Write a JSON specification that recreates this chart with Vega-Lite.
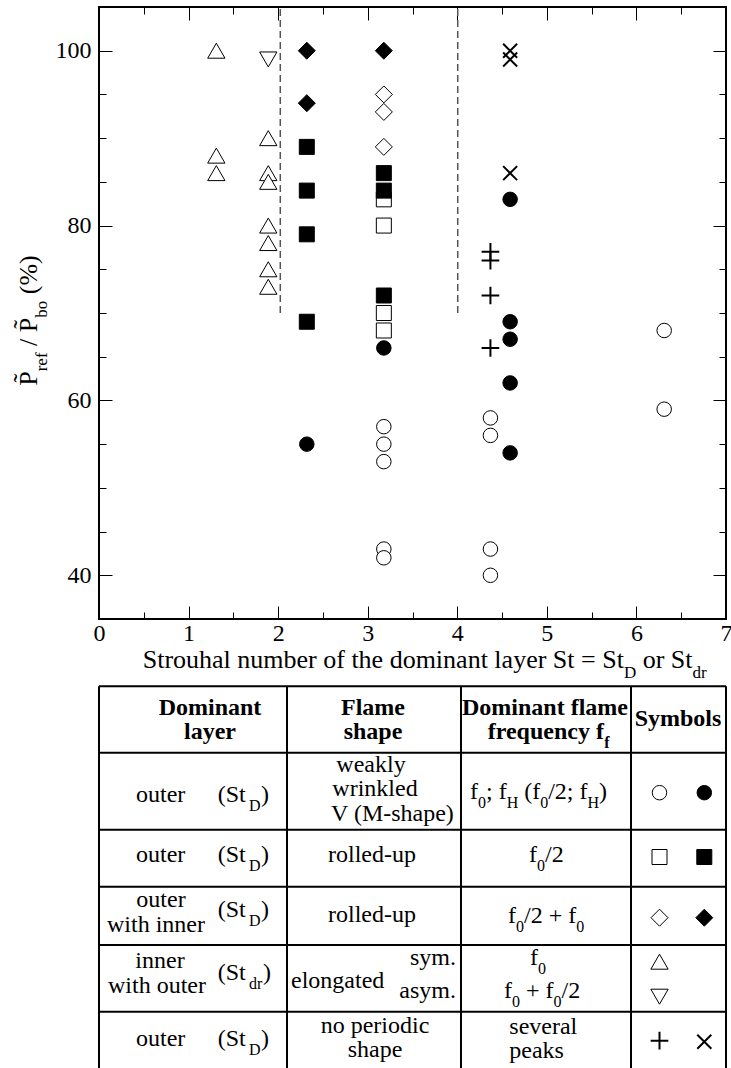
{
  "$schema": "https://vega.github.io/schema/vega-lite/v6.json",
  "background": "white",
  "padding": {"left": 14, "top": 5, "right": 0, "bottom": 0},
  "bounds": "flush",
  "spacing": 30,
  "datasets": {
    "pts": [
      {"x": 1.31, "y": 100, "sym": "tri-up", "f": "open"},
      {"x": 1.31, "y": 88, "sym": "tri-up", "f": "open"},
      {"x": 1.31, "y": 86, "sym": "tri-up", "f": "open"},
      {"x": 1.89, "y": 90, "sym": "tri-up", "f": "open"},
      {"x": 1.89, "y": 86, "sym": "tri-up", "f": "open"},
      {"x": 1.89, "y": 85, "sym": "tri-up", "f": "open"},
      {"x": 1.89, "y": 80, "sym": "tri-up", "f": "open"},
      {"x": 1.89, "y": 78, "sym": "tri-up", "f": "open"},
      {"x": 1.89, "y": 75, "sym": "tri-up", "f": "open"},
      {"x": 1.89, "y": 73, "sym": "tri-up", "f": "open"},
      {"x": 1.89, "y": 99, "sym": "tri-down", "f": "open"},
      {"x": 3.18, "y": 95, "sym": "diamond", "f": "open"},
      {"x": 3.18, "y": 93, "sym": "diamond", "f": "open"},
      {"x": 3.18, "y": 89, "sym": "diamond", "f": "open"},
      {"x": 3.18, "y": 83, "sym": "square", "f": "open"},
      {"x": 3.18, "y": 80, "sym": "square", "f": "open"},
      {"x": 3.18, "y": 70, "sym": "square", "f": "open"},
      {"x": 3.18, "y": 68, "sym": "square", "f": "open"},
      {"x": 3.18, "y": 57, "sym": "circle", "f": "open"},
      {"x": 3.18, "y": 55, "sym": "circle", "f": "open"},
      {"x": 3.18, "y": 53, "sym": "circle", "f": "open"},
      {"x": 3.18, "y": 43, "sym": "circle", "f": "open"},
      {"x": 3.18, "y": 42, "sym": "circle", "f": "open"},
      {"x": 4.37, "y": 58, "sym": "circle", "f": "open"},
      {"x": 4.37, "y": 56, "sym": "circle", "f": "open"},
      {"x": 4.37, "y": 43, "sym": "circle", "f": "open"},
      {"x": 4.37, "y": 40, "sym": "circle", "f": "open"},
      {"x": 6.31, "y": 68, "sym": "circle", "f": "open"},
      {"x": 6.31, "y": 59, "sym": "circle", "f": "open"},
      {"x": 4.37, "y": 77, "sym": "plus", "f": "open"},
      {"x": 4.37, "y": 76, "sym": "plus", "f": "open"},
      {"x": 4.37, "y": 72, "sym": "plus", "f": "open"},
      {"x": 4.37, "y": 66, "sym": "plus", "f": "open"},
      {"x": 2.32, "y": 100, "sym": "diamond", "f": "filled"},
      {"x": 2.32, "y": 94, "sym": "diamond", "f": "filled"},
      {"x": 3.18, "y": 100, "sym": "diamond", "f": "filled"},
      {"x": 2.32, "y": 89, "sym": "square", "f": "filled"},
      {"x": 2.32, "y": 84, "sym": "square", "f": "filled"},
      {"x": 2.32, "y": 79, "sym": "square", "f": "filled"},
      {"x": 2.32, "y": 69, "sym": "square", "f": "filled"},
      {"x": 3.18, "y": 86, "sym": "square", "f": "filled"},
      {"x": 3.18, "y": 84, "sym": "square", "f": "filled"},
      {"x": 3.18, "y": 72, "sym": "square", "f": "filled"},
      {"x": 2.32, "y": 55, "sym": "circle", "f": "filled"},
      {"x": 3.18, "y": 66, "sym": "circle", "f": "filled"},
      {"x": 4.59, "y": 83, "sym": "circle", "f": "filled"},
      {"x": 4.59, "y": 69, "sym": "circle", "f": "filled"},
      {"x": 4.59, "y": 67, "sym": "circle", "f": "filled"},
      {"x": 4.59, "y": 62, "sym": "circle", "f": "filled"},
      {"x": 4.59, "y": 54, "sym": "circle", "f": "filled"},
      {"x": 4.59, "y": 100, "sym": "cross", "f": "filled"},
      {"x": 4.59, "y": 99, "sym": "cross", "f": "filled"},
      {"x": 4.59, "y": 86, "sym": "cross", "f": "filled"}
    ],
    "limits": [
      {"x": 2.024, "y": 70, "y2": 105},
      {"x": 4.005, "y": 70, "y2": 105}
    ],
    "grid": [
      {"x": 0, "x2": 7, "y": 1.5542, "y2": 1.5542},
      {"x": 0, "x2": 7, "y": 4.3208, "y2": 4.3208},
      {"x": 0, "x2": 7, "y": 7.5292, "y2": 7.5292},
      {"x": 0, "x2": 7, "y": 9.9042, "y2": 9.9042},
      {"x": 0, "x2": 7, "y": 12.3333, "y2": 12.3333},
      {"x": 0, "x2": 7, "y": 15.1125, "y2": 15.1125},
      {"x": 0, "x2": 0, "y": 1.5542, "y2": 17.5},
      {"x": 2.0989, "x2": 2.0989, "y": 1.5542, "y2": 17.5},
      {"x": 4.0414, "x2": 4.0414, "y": 1.5542, "y2": 17.5},
      {"x": 5.9394, "x2": 5.9394, "y": 1.5542, "y2": 17.5},
      {"x": 7, "x2": 7, "y": 1.5542, "y2": 17.5}
    ],
    "txt": [
      {"t": "Strouhal number of the dominant layer St = St", "x": 0.4879, "y": 0.8, "k": "T"},
      {"t": "D", "x": 5.8601, "y": 0.8, "k": "Ts"},
      {"t": "or St", "x": 6.07, "y": 0.8, "k": "T"},
      {"t": "dr", "x": 6.626, "y": 0.8, "k": "Ts"},
      {"t": "Dominant", "x": 1.2392, "y": 2.7375, "k": "cb"},
      {"t": "layer", "x": 1.2392, "y": 3.7375, "k": "cb"},
      {"t": "Flame", "x": 3.059, "y": 2.7375, "k": "cb"},
      {"t": "shape", "x": 3.059, "y": 3.7375, "k": "cb"},
      {"t": "Dominant flame", "x": 4.9793, "y": 2.7375, "k": "cb"},
      {"t": "frequency f", "x": 4.3396, "y": 3.7375, "k": "lb"},
      {"t": "f", "x": 5.6414, "y": 3.7375, "k": "sb"},
      {"t": "Symbols", "x": 6.4642, "y": 3.2083, "k": "cb"},
      {"t": "outer", "x": 0.4131, "y": 6.375, "k": "l"},
      {"t": "(St", "x": 1.3252, "y": 6.375, "k": "l"},
      {"t": "D", "x": 1.6746, "y": 6.375, "k": "s"},
      {"t": ")", "x": 1.8086, "y": 6.375, "k": "l"},
      {"t": "weakly", "x": 3.0367, "y": 5.125, "k": "c"},
      {"t": "wrinkled", "x": 3.0813, "y": 6.1458, "k": "c"},
      {"t": "V (M-shape)", "x": 2.5901, "y": 7.1667, "k": "l"},
      {"t": "f", "x": 4.142, "y": 6.25, "k": "l"},
      {"t": "0", "x": 4.2313, "y": 6.25, "k": "s"},
      {"t": "; f", "x": 4.3206, "y": 6.25, "k": "l"},
      {"t": "H", "x": 4.5513, "y": 6.25, "k": "s"},
      {"t": "(f", "x": 4.7471, "y": 6.25, "k": "l"},
      {"t": "0", "x": 4.9257, "y": 6.25, "k": "s"},
      {"t": "/2; f", "x": 5.015, "y": 6.25, "k": "l"},
      {"t": "H", "x": 5.4538, "y": 6.25, "k": "s"},
      {"t": ")", "x": 5.5833, "y": 6.25, "k": "l"},
      {"t": "outer", "x": 0.4131, "y": 8.875, "k": "l"},
      {"t": "(St", "x": 1.3252, "y": 8.875, "k": "l"},
      {"t": "D", "x": 1.6746, "y": 8.875, "k": "s"},
      {"t": ")", "x": 1.8086, "y": 8.875, "k": "l"},
      {"t": "rolled-up", "x": 3.0479, "y": 8.875, "k": "c"},
      {"t": "f", "x": 4.8007, "y": 8.875, "k": "l"},
      {"t": "0", "x": 4.8899, "y": 8.875, "k": "s"},
      {"t": "/2", "x": 4.9793, "y": 8.875, "k": "l"},
      {"t": "outer", "x": 0.6922, "y": 10.7625, "k": "c"},
      {"t": "with inner", "x": 0.6364, "y": 11.7792, "k": "c"},
      {"t": "(St", "x": 1.3252, "y": 11.154, "k": "l"},
      {"t": "D", "x": 1.6746, "y": 11.154, "k": "s"},
      {"t": ")", "x": 1.8086, "y": 11.154, "k": "l"},
      {"t": "rolled-up", "x": 3.0479, "y": 11.3625, "k": "c"},
      {"t": "f", "x": 4.5662, "y": 11.4292, "k": "l"},
      {"t": "0", "x": 4.6555, "y": 11.4292, "k": "s"},
      {"t": "/2 + f", "x": 4.7448, "y": 11.4292, "k": "l"},
      {"t": "0", "x": 5.3276, "y": 11.4292, "k": "s"},
      {"t": "inner", "x": 0.681, "y": 13.304, "k": "c"},
      {"t": "with outer", "x": 0.6475, "y": 14.3458, "k": "c"},
      {"t": "(St", "x": 1.3252, "y": 13.792, "k": "l"},
      {"t": "dr", "x": 1.6746, "y": 13.792, "k": "s"},
      {"t": ")", "x": 1.831, "y": 13.792, "k": "l"},
      {"t": "elongated", "x": 2.1435, "y": 14.125, "k": "l"},
      {"t": "sym.", "x": 3.9857, "y": 13.1667, "k": "r"},
      {"t": "asym.", "x": 3.9857, "y": 14.5417, "k": "r"},
      {"t": "f", "x": 4.8118, "y": 13.1667, "k": "l"},
      {"t": "0", "x": 4.9011, "y": 13.1667, "k": "s"},
      {"t": "f", "x": 4.5215, "y": 14.5417, "k": "l"},
      {"t": "0", "x": 4.6109, "y": 14.5417, "k": "s"},
      {"t": "+ f", "x": 4.7672, "y": 14.5417, "k": "l"},
      {"t": "0", "x": 5.0742, "y": 14.5417, "k": "s"},
      {"t": "/2", "x": 5.1635, "y": 14.5417, "k": "l"},
      {"t": "outer", "x": 0.4131, "y": 16.5417, "k": "l"},
      {"t": "(St", "x": 1.3252, "y": 16.5417, "k": "l"},
      {"t": "D", "x": 1.6746, "y": 16.5417, "k": "s"},
      {"t": ")", "x": 1.8086, "y": 16.5417, "k": "l"},
      {"t": "no periodic", "x": 3.0813, "y": 16.0, "k": "c"},
      {"t": "shape", "x": 3.0813, "y": 17.0, "k": "c"},
      {"t": "several", "x": 4.5807, "y": 16.0417, "k": "l"},
      {"t": "peaks", "x": 4.5807, "y": 17.0417, "k": "l"}
    ],
    "keysyms": [
      {"x": 6.2576, "y": 5.9875, "sym": "circle", "f": "open"},
      {"x": 6.7578, "y": 5.9875, "sym": "circle", "f": "filled"},
      {"x": 6.2576, "y": 8.6667, "sym": "square", "f": "open"},
      {"x": 6.7578, "y": 8.6667, "sym": "square", "f": "filled"},
      {"x": 6.2576, "y": 11.1958, "sym": "diamond", "f": "open"},
      {"x": 6.7578, "y": 11.1958, "sym": "diamond", "f": "filled"},
      {"x": 6.2576, "y": 13.0292, "sym": "tri-up", "f": "open"},
      {"x": 6.2576, "y": 14.4875, "sym": "tri-down", "f": "open"},
      {"x": 6.2576, "y": 16.3208, "sym": "plus", "f": "open"},
      {"x": 6.7578, "y": 16.3625, "sym": "cross", "f": "filled"}
    ]
  },
  "vconcat": [
    {
      "width": 627,
      "height": 612,
      "view": {"stroke": "black", "strokeWidth": 2},
      "resolve": {"axis": {"x": "independent", "y": "independent"}},
      "layer": [
        {
          "data": {"name": "limits"},
          "mark": {"type": "rule", "strokeDash": [7, 4], "color": "#555555", "strokeWidth": 1.5},
          "encoding": {
            "x": {"field": "x", "type": "quantitative", "scale": {"domain": [0, 7], "nice": false, "zero": false},
              "axis": {"orient": "bottom", "values": [0.5, 1.5, 2.5, 3.5, 4.5, 5.5, 6.5], "tickSize": -7, "labels": false, "title": null}},
            "y": {"field": "y", "type": "quantitative", "scale": {"domain": [35, 105], "nice": false, "zero": false},
              "axis": {"orient": "left", "values": [45, 50, 55, 65, 70, 75, 85, 90, 95], "tickSize": -7, "labels": false,
                "title": "ref", "titleX": -53, "titleY": 363.8, "titleAngle": 270, "titleAlign": "left", "titleBaseline": "alphabetic", "titleFontSize": 17}},
            "y2": {"field": "y2"}
          }
        },
        {
          "data": {"name": "pts"},
          "mark": {"type": "point", "filled": true, "stroke": "black", "opacity": 1},
          "encoding": {
            "x": {"field": "x", "type": "quantitative", "scale": {"domain": [0, 7], "nice": false, "zero": false},
              "axis": {"orient": "bottom", "values": [0, 1, 2, 3, 4, 5, 6, 7], "tickSize": -13, "labelPadding": 15, "labelFlush": false, "title": null}},
            "y": {"field": "y", "type": "quantitative", "scale": {"domain": [35, 105], "nice": false, "zero": false},
              "axis": {"orient": "left", "values": [40, 60, 80, 100], "tickSize": -13, "labelPadding": 21,
                "title": "P\u0303", "titleX": -63, "titleY": 378.3, "titleAngle": 270, "titleAlign": "left", "titleBaseline": "alphabetic", "titleFontSize": 26}},
            "shape": {"field": "sym", "type": "nominal", "legend": null,
              "scale": {"domain": ["circle", "square", "diamond", "tri-up", "tri-down", "plus", "cross"],
                "range": ["circle", "square", "diamond", "triangle-up", "triangle-down", "M-1,0L1,0M0,-1L0,1", "M-1,-1L1,1M-1,1L1,-1"]}},
            "fill": {"condition": {"test": "datum.f === 'filled'", "value": "black"}, "value": "white"},
            "size": {"condition": [
              {"test": "datum.sym === 'square'", "value": 225},
              {"test": "datum.sym === 'diamond'", "value": 289},
              {"test": "datum.sym === 'tri-up' || datum.sym === 'tri-down'", "value": 300},
              {"test": "datum.sym === 'plus'", "value": 313},
              {"test": "datum.sym === 'cross'", "value": 196}
            ], "value": 210},
            "strokeWidth": {"condition": {"test": "datum.sym === 'plus' || datum.sym === 'cross'", "value": 2}, "value": 1}
          }
        },
        {
          "data": {"name": "limits"},
          "mark": {"type": "point", "opacity": 0},
          "encoding": {
            "x": {"field": "x", "type": "quantitative", "scale": {"domain": [0, 7], "nice": false, "zero": false},
              "axis": {"orient": "top", "values": [0, 1, 2, 3, 4, 5, 6, 7], "tickSize": -13, "labels": false, "title": null}},
            "y": {"field": "y", "type": "quantitative", "scale": {"domain": [35, 105], "nice": false, "zero": false},
              "axis": {"orient": "right", "values": [40, 60, 80, 100], "tickSize": -13, "labels": false,
                "title": "/ P\u0303", "titleX": -690, "titleY": 338.4, "titleAngle": 270, "titleAlign": "left", "titleBaseline": "alphabetic", "titleFontSize": 26}}
          }
        },
        {
          "data": {"name": "limits"},
          "mark": {"type": "point", "opacity": 0},
          "encoding": {
            "x": {"field": "x", "type": "quantitative", "scale": {"domain": [0, 7], "nice": false, "zero": false},
              "axis": {"orient": "top", "values": [0.5, 1.5, 2.5, 3.5, 4.5, 5.5, 6.5], "tickSize": -7, "labels": false, "title": null}},
            "y": {"field": "y", "type": "quantitative", "scale": {"domain": [35, 105], "nice": false, "zero": false},
              "axis": {"orient": "right", "values": [45, 50, 55, 65, 70, 75, 85, 90, 95], "tickSize": -7, "labels": false,
                "title": "bo", "titleX": -680, "titleY": 310.2, "titleAngle": 270, "titleAlign": "left", "titleBaseline": "alphabetic", "titleFontSize": 17}}
          }
        },
        {
          "data": {"name": "limits"},
          "mark": {"type": "point", "opacity": 0},
          "encoding": {
            "x": {"field": "x", "type": "quantitative", "scale": {"domain": [0, 7], "nice": false, "zero": false}, "axis": null},
            "y": {"field": "y", "type": "quantitative", "scale": {"domain": [35, 105], "nice": false, "zero": false},
              "axis": {"orient": "left", "ticks": false, "labels": false,
                "title": "(%)", "titleX": -63, "titleY": 286.7, "titleAngle": 270, "titleAlign": "left", "titleBaseline": "alphabetic", "titleFontSize": 26}}
          }
        }
      ]
    },
    {
      "width": 627,
      "height": 420,
      "view": {"stroke": null},
      "encoding": {
        "x": {"field": "x", "type": "quantitative", "scale": {"domain": [0, 7], "nice": false, "zero": false}, "axis": null},
        "y": {"field": "y", "type": "quantitative", "scale": {"domain": [0, 17.5], "reverse": true, "nice": false, "zero": false}, "axis": null}
      },
      "layer": [
        {
          "data": {"name": "grid"},
          "mark": {"type": "rule", "color": "black", "strokeWidth": 2},
          "encoding": {"x2": {"field": "x2"}, "y2": {"field": "y2"}}
        },
        {
          "data": {"name": "txt"},
          "transform": [{"filter": "datum.k === 'T'"}],
          "mark": {"type": "text", "align": "left", "baseline": "alphabetic", "font": "Liberation Serif", "fontSize": 26, "color": "black"},
          "encoding": {"text": {"field": "t"}}
        },
        {
          "data": {"name": "txt"},
          "transform": [{"filter": "datum.k === 'Ts'"}],
          "mark": {"type": "text", "align": "left", "baseline": "alphabetic", "font": "Liberation Serif", "fontSize": 17, "dy": 10, "color": "black"},
          "encoding": {"text": {"field": "t"}}
        },
        {
          "data": {"name": "txt"},
          "transform": [{"filter": "datum.k === 'cb'"}],
          "mark": {"type": "text", "align": "center", "baseline": "alphabetic", "font": "Liberation Serif", "fontSize": 24, "fontWeight": "bold", "color": "black"},
          "encoding": {"text": {"field": "t"}}
        },
        {
          "data": {"name": "txt"},
          "transform": [{"filter": "datum.k === 'lb'"}],
          "mark": {"type": "text", "align": "left", "baseline": "alphabetic", "font": "Liberation Serif", "fontSize": 24, "fontWeight": "bold", "color": "black"},
          "encoding": {"text": {"field": "t"}}
        },
        {
          "data": {"name": "txt"},
          "transform": [{"filter": "datum.k === 'sb'"}],
          "mark": {"type": "text", "align": "left", "baseline": "alphabetic", "font": "Liberation Serif", "fontSize": 16, "fontWeight": "bold", "dy": 9, "color": "black"},
          "encoding": {"text": {"field": "t"}}
        },
        {
          "data": {"name": "txt"},
          "transform": [{"filter": "datum.k === 'c'"}],
          "mark": {"type": "text", "align": "center", "baseline": "alphabetic", "font": "Liberation Serif", "fontSize": 24, "color": "black"},
          "encoding": {"text": {"field": "t"}}
        },
        {
          "data": {"name": "txt"},
          "transform": [{"filter": "datum.k === 'l'"}],
          "mark": {"type": "text", "align": "left", "baseline": "alphabetic", "font": "Liberation Serif", "fontSize": 24, "color": "black"},
          "encoding": {"text": {"field": "t"}}
        },
        {
          "data": {"name": "txt"},
          "transform": [{"filter": "datum.k === 'r'"}],
          "mark": {"type": "text", "align": "right", "baseline": "alphabetic", "font": "Liberation Serif", "fontSize": 24, "color": "black"},
          "encoding": {"text": {"field": "t"}}
        },
        {
          "data": {"name": "txt"},
          "transform": [{"filter": "datum.k === 's'"}],
          "mark": {"type": "text", "align": "left", "baseline": "alphabetic", "font": "Liberation Serif", "fontSize": 16, "dy": 9, "color": "black"},
          "encoding": {"text": {"field": "t"}}
        },
        {
          "data": {"name": "keysyms"},
          "mark": {"type": "point", "filled": true, "stroke": "black", "opacity": 1},
          "encoding": {
            "shape": {"field": "sym", "type": "nominal", "legend": null,
              "scale": {"domain": ["circle", "square", "diamond", "tri-up", "tri-down", "plus", "cross"],
                "range": ["circle", "square", "diamond", "triangle-up", "triangle-down", "M-1,0L1,0M0,-1L0,1", "M-1,-1L1,1M-1,1L1,-1"]}},
            "fill": {"condition": {"test": "datum.f === 'filled'", "value": "black"}, "value": "white"},
            "size": {"condition": [
              {"test": "datum.sym === 'square'", "value": 225},
              {"test": "datum.sym === 'diamond'", "value": 289},
              {"test": "datum.sym === 'tri-up' || datum.sym === 'tri-down'", "value": 300},
              {"test": "datum.sym === 'plus'", "value": 313},
              {"test": "datum.sym === 'cross'", "value": 196}
            ], "value": 210},
            "strokeWidth": {"condition": {"test": "datum.sym === 'plus' || datum.sym === 'cross'", "value": 2}, "value": 1}
          }
        }
      ]
    }
  ],
  "config": {
    "font": "Liberation Serif",
    "axis": {
      "labelFont": "Liberation Serif",
      "titleFont": "Liberation Serif",
      "labelFontSize": 24,
      "labelColor": "black",
      "titleColor": "black",
      "titleFontWeight": "normal",
      "tickColor": "black",
      "tickWidth": 1,
      "domain": false,
      "grid": false
    },
    "text": {"font": "Liberation Serif", "color": "black"}
  }
}
